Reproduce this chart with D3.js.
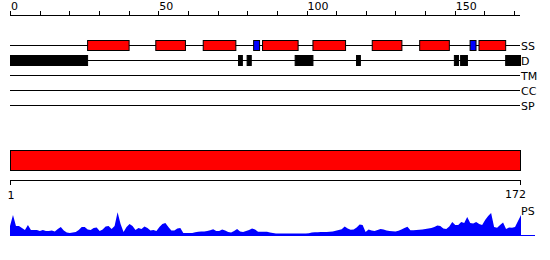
<!DOCTYPE html>
<html>
<head>
<meta charset="utf-8">
<script src="https://cdn.jsdelivr.net/npm/d3@7"></script>
<style>
  html, body { margin: 0; padding: 0; background: #fff; }
  svg { display: block; font-family: "DejaVu Sans", sans-serif; }
</style>
</head>
<body>
<svg id="chart" width="550" height="260"></svg>
<script>
// ---- data ----
const seqLength = 172;
const axisTicks = [0, 10, 20, 30, 40, 50, 60, 70, 80, 90, 100, 110, 120, 130, 140, 150, 160, 170];
const axisLabels = [0, 50, 100, 150];
const trackNames = ["SS", "D", "TM", "CC", "SP"];
const helices = [[26, 40], [49, 59], [65, 76], [85, 97], [102, 113], [122, 132], [138, 148], [158, 167]];
const strands = [[82, 84], [155, 157]];
const disorder = [[0, 26], [76.9, 78.2], [79.8, 81.2], [96, 102], [116.7, 118], [149.7, 151.1], [151.8, 154.1], [167, 172]];
const domainBar = [[0, 172]];
const rangeLabels = ["1", "172"];
const psLabel = "PS";
const psValues = [
  9, 20, 9, 9, 7, 5, 10, 5, 5, 5,
  4, 5, 4, 4, 4.5, 3.5, 6, 8, 4.5, 2.5,
  2, 2.5, 3, 5, 8, 8, 5.5, 5, 7, 7.5,
  4, 5.5, 8.5, 9, 6, 9, 22.7, 11, 3, 8,
  11, 9, 5, 7, 6, 8.5, 7, 4.5, 5, 4,
  8, 11, 12, 8, 4.5, 4.5, 6.5, 7, 2, 2,
  2, 2, 2.7, 3.2, 3.5, 3.6, 3.9, 4.8, 5.7, 4,
  4, 5.5, 4.5, 3, 2.5, 4, 6, 3.5, 3, 4,
  5, 6.5, 5.5, 3.3, 3.3, 3.3, 3.2, 2.5, 2, 1.5,
  1.5, 1.5, 1.5, 1.5, 1.5, 1.5, 1.5, 1.5, 1.5, 1.5,
  1.8, 2.5, 2.7, 2.8, 2.9, 3, 3.1, 3.2, 3.5, 4.3,
  5, 5.7, 8.5, 6.5, 5.2, 5.5, 7.5, 10.5, 10, 3,
  5.5, 4.5, 4, 5, 6, 5.5, 4.5, 4, 3.7, 3.6,
  4.2, 5.5, 7, 8.3, 4.7, 4.8, 5, 5.2, 5.6, 6,
  6.5, 7, 8, 9.5, 9, 6.5, 6, 8.5, 13, 10,
  10, 13, 12, 18, 12, 11.5, 13, 11, 10, 15,
  19, 22, 8, 7.2, 10, 12.5, 6, 7.5, 7.3, 8,
  14, 20
];

// ---- drawing ----
const svg = d3.select("#chart");
const x = d3.scaleLinear().domain([0, seqLength]).range([10, 520]);

// top axis
const topAxis = svg.append("g").attr("transform", "translate(0,15)");
topAxis.append("line").attr("x1", x(0)).attr("x2", x(seqLength)).attr("y1", 0).attr("y2", 0)
  .attr("stroke", "#000").attr("stroke-width", 1).attr("shape-rendering", "crispEdges");
topAxis.selectAll("line.tick").data(axisTicks).join("line").attr("class", "tick")
  .attr("x1", d => Math.round(x(d)) + 0.5).attr("x2", d => Math.round(x(d)) + 0.5)
  .attr("y1", -4).attr("y2", 0).attr("stroke", "#000").attr("stroke-width", 1);
topAxis.selectAll("text").data(axisLabels).join("text")
  .attr("x", d => x(d) + 1).attr("y", -5.5)
  .attr("font-size", 11).attr("fill", "#000").text(d => d);

// tracks
const trackY = d3.scalePoint().domain(trackNames).range([45, 105]);
svg.selectAll("line.track").data(trackNames).join("line").attr("class", "track")
  .attr("x1", x(0)).attr("x2", x(seqLength))
  .attr("y1", d => trackY(d) + 0.5).attr("y2", d => trackY(d) + 0.5)
  .attr("stroke", "#000").attr("stroke-width", 1);
svg.selectAll("text.track").data(trackNames).join("text").attr("class", "track")
  .attr("x", x(seqLength) + 1).attr("y", d => trackY(d) + 4.5)
  .attr("font-size", 11).attr("fill", "#000").text(d => d);

function boxes(data, track, fill, cls) {
  svg.selectAll("rect." + cls).data(data).join("rect").attr("class", cls)
    .attr("x", d => x(d[0]) + 0.5).attr("width", d => x(d[1]) - x(d[0]))
    .attr("y", trackY(track) - 4.5).attr("height", 10)
    .attr("fill", fill).attr("stroke", "#000").attr("stroke-width", 1);
}
boxes(helices, "SS", "#ff0000", "helix");
boxes(strands, "SS", "#0000ff", "strand");
boxes(disorder, "D", "#000000", "dis");

// domain bar
svg.selectAll("rect.domain").data(domainBar).join("rect").attr("class", "domain")
  .attr("x", d => x(d[0]) + 0.5).attr("width", d => x(d[1]) - x(d[0]))
  .attr("y", 150.5).attr("height", 20)
  .attr("fill", "#ff0000").attr("stroke", "#000").attr("stroke-width", 1);

// range axis
const rg = svg.append("g");
rg.append("line").attr("x1", x(0)).attr("x2", x(seqLength) + 1).attr("y1", 180.5).attr("y2", 180.5)
  .attr("stroke", "#000");
[0, seqLength].forEach(v => {
  rg.append("line").attr("x1", Math.round(x(v)) + 0.5).attr("x2", Math.round(x(v)) + 0.5)
    .attr("y1", 180).attr("y2", 185).attr("stroke", "#000");
});
rg.append("text").attr("x", x(0) + 1).attr("y", 199).attr("text-anchor", "middle")
  .attr("font-size", 11).text(rangeLabels[0]);
rg.append("text").attr("x", x(seqLength) - 4.5).attr("y", 198).attr("text-anchor", "middle")
  .attr("font-size", 11).text(rangeLabels[1]);

// PS profile
const xp = d3.scaleLinear().domain([1, seqLength]).range([10, 521]);
const yp = d3.scaleLinear().domain([0, 23]).range([235, 212]);
const area = d3.area().x((d, i) => xp(i + 1)).y0(yp(0)).y1(d => yp(d)).curve(d3.curveLinear);
svg.append("path").datum(psValues).attr("d", area).attr("fill", "#0000ff");
svg.append("line").attr("x1", 10).attr("x2", 535).attr("y1", yp(0) + 0.5).attr("y2", yp(0) + 0.5)
  .attr("stroke", "#0000ff").attr("stroke-width", 1);
svg.append("text").attr("x", 521).attr("y", 214.5).attr("font-size", 11).text(psLabel);
</script>
</body>
</html>
